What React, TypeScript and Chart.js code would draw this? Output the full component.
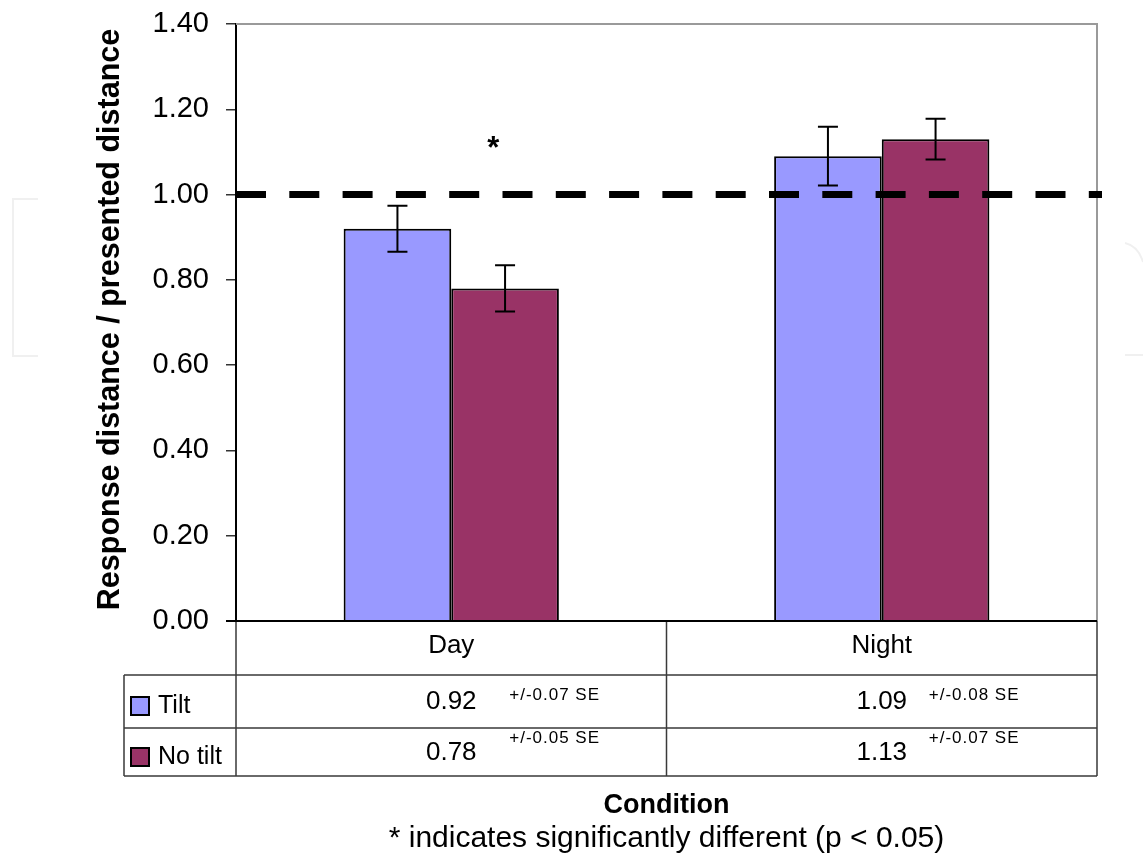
import React, { useEffect, useRef } from "react";
import { Chart, registerables } from "chart.js";

Chart.register(...registerables);

// ---------- data ----------
const categories = ["Day", "Night"];
const seriesNames = ["Tilt", "No tilt"];
const tiltValues = [0.92, 1.09];
const noTiltValues = [0.78, 1.13];
const tiltErr = [0.054, 0.069];
const noTiltErr = [0.054, 0.048];
const tiltSE = ["+/-0.07 SE", "+/-0.08 SE"];
const noTiltSE = ["+/-0.05 SE", "+/-0.07 SE"];
const yMin = 0;
const yMax = 1.4;
const yStep = 0.2;
const referenceValue = 1.0;
const significanceMark = "*";
const significanceValue = 1.12;
const yTitle = "Response distance / presented distance";
const xTitle = "Condition";
const footnote = "* indicates significantly different (p < 0.05)";

const seriesColors = ["#9999FF", "#993366"];
const FONT = "'Liberation Sans', Arial, sans-serif";

const seriesValues = [tiltValues, noTiltValues];
const seriesErr = [tiltErr, noTiltErr];
const seriesSE = [tiltSE, noTiltSE];

const customPlugin = {
  id: "customDraw",
  beforeDraw(chart: any) {
    const { ctx } = chart;
    ctx.save();
    ctx.fillStyle = "#fff";
    ctx.fillRect(0, 0, chart.width, chart.height);
    // faint watermark outline
    ctx.strokeStyle = "#f0f0f0";
    ctx.lineWidth = 2;
    ctx.beginPath();
    ctx.moveTo(38, 199);
    ctx.lineTo(13, 199);
    ctx.lineTo(13, 356);
    ctx.lineTo(38, 356);
    ctx.stroke();
    ctx.beginPath();
    ctx.moveTo(1125, 243);
    ctx.quadraticCurveTo(1138, 246, 1143, 262);
    ctx.moveTo(1125, 355);
    ctx.lineTo(1143, 355);
    ctx.stroke();
    ctx.restore();
  },
  beforeDatasetsDraw(chart: any) {
    const { ctx, chartArea: a } = chart;
    ctx.save();
    ctx.strokeStyle = "#9a9a9a";
    ctx.lineWidth = 2;
    ctx.beginPath();
    ctx.moveTo(a.left, a.top);
    ctx.lineTo(a.right, a.top);
    ctx.lineTo(a.right, a.bottom);
    ctx.stroke();
    ctx.restore();
  },
  afterDatasetsDraw(chart: any) {
    const { ctx, chartArea: a } = chart;
    const ys = chart.scales.y;
    const xs = chart.scales.x;
    ctx.save();

    // error bars
    ctx.strokeStyle = "#000";
    ctx.lineWidth = 2;
    seriesErr.forEach((errs, di) => {
      const meta = chart.getDatasetMeta(di);
      meta.data.forEach((bar: any, i: number) => {
        const v = seriesValues[di][i];
        const top = ys.getPixelForValue(v + errs[i]);
        const bot = ys.getPixelForValue(v - errs[i]);
        ctx.beginPath();
        ctx.moveTo(bar.x, top);
        ctx.lineTo(bar.x, bot);
        ctx.moveTo(bar.x - 10, top);
        ctx.lineTo(bar.x + 10, top);
        ctx.moveTo(bar.x - 10, bot);
        ctx.lineTo(bar.x + 10, bot);
        ctx.stroke();
      });
    });

    // reference dashed line
    const ry = ys.getPixelForValue(referenceValue);
    ctx.beginPath();
    ctx.setLineDash([30, 23.3]);
    ctx.lineWidth = 7;
    ctx.moveTo(a.left, ry);
    ctx.lineTo(a.right + 5, ry);
    ctx.stroke();
    ctx.setLineDash([]);

    // significance star
    ctx.fillStyle = "#000";
    ctx.font = `bold 31px ${FONT}`;
    ctx.textAlign = "center";
    ctx.textBaseline = "alphabetic";
    ctx.fillText(significanceMark, xs.getPixelForValue(0) + 42, ys.getPixelForValue(significanceValue) + 15);

    // data table
    const rowTop = a.bottom;
    const r1 = rowTop + 54;
    const r2 = r1 + 53;
    const r3 = r2 + 48;
    const legLeft = a.left - 112;
    const mid = (a.left + a.right) / 2;
    ctx.strokeStyle = "#3a3a3a";
    ctx.lineWidth = 1.5;
    ctx.beginPath();
    ctx.moveTo(legLeft, r1);
    ctx.lineTo(a.right, r1);
    ctx.moveTo(legLeft, r2);
    ctx.lineTo(a.right, r2);
    ctx.moveTo(legLeft, r3);
    ctx.lineTo(a.right, r3);
    ctx.moveTo(legLeft, r1);
    ctx.lineTo(legLeft, r3);
    ctx.moveTo(a.left, rowTop);
    ctx.lineTo(a.left, r3);
    ctx.moveTo(mid, rowTop);
    ctx.lineTo(mid, r3);
    ctx.moveTo(a.right, rowTop);
    ctx.lineTo(a.right, r3);
    ctx.stroke();
    // x axis line
    ctx.strokeStyle = "#000";
    ctx.lineWidth = 2;
    ctx.beginPath();
    ctx.moveTo(a.left - 10, rowTop);
    ctx.lineTo(a.right, rowTop);
    ctx.stroke();

    // header labels
    ctx.fillStyle = "#000";
    ctx.textAlign = "center";
    ctx.font = `26px ${FONT}`;
    categories.forEach((c, i) => {
      ctx.fillText(c, xs.getPixelForValue(i), rowTop + 32);
    });

    // legend cells
    const rowBase = [r1 + 38, r2 + 36];
    const seOffsets = [58, 47];
    const seBase = [r1 + 25, r2 + 15];
    seriesNames.forEach((name, si) => {
      const boxY = rowBase[si] - 16;
      ctx.fillStyle = seriesColors[si];
      ctx.fillRect(legLeft + 7, boxY, 18, 18);
      ctx.strokeStyle = "#000";
      ctx.lineWidth = 2;
      ctx.strokeRect(legLeft + 7, boxY, 18, 18);
      ctx.fillStyle = "#000";
      ctx.textAlign = "left";
      ctx.font = `25px ${FONT}`;
      ctx.fillText(name, legLeft + 34, rowBase[si]);
      seriesValues[si].forEach((v, ci) => {
        const cx = xs.getPixelForValue(ci);
        ctx.textAlign = "center";
        ctx.font = `26px ${FONT}`;
        ctx.fillText(v.toFixed(2), cx, rowBase[si] - 4);
        ctx.textAlign = "left";
        ctx.font = `17px ${FONT}`;
        (ctx as any).letterSpacing = "1px";
        ctx.fillText(seriesSE[si][ci], cx + seOffsets[ci], seBase[si]);
        (ctx as any).letterSpacing = "0px";
      });
    });

    // titles
    ctx.textAlign = "center";
    ctx.font = `bold 27px ${FONT}`;
    ctx.fillText(xTitle, mid, 813);
    ctx.font = `30px ${FONT}`;
    ctx.fillText(footnote, mid, 847);

    ctx.save();
    ctx.translate(119, (a.top + a.bottom) / 2 - 3);
    ctx.rotate(-Math.PI / 2);
    ctx.font = `bold 30.5px ${FONT}`;
    ctx.fillText(yTitle, 0, 0);
    ctx.restore();

    ctx.restore();
  },
};

export default function App() {
  const ref = useRef<HTMLCanvasElement | null>(null);
  useEffect(() => {
    if (!ref.current) return;
    const chart = new Chart(ref.current, {
      type: "bar",
      data: {
        labels: categories,
        datasets: seriesNames.map((n, i) => ({
          label: n,
          data: seriesValues[i],
          backgroundColor: seriesColors[i],
          borderColor: "#000",
          borderWidth: 2,
          categoryPercentage: 0.5,
          barPercentage: 1,
        })),
      },
      options: {
        responsive: false,
        animation: false,
        devicePixelRatio: 1,
        layout: { padding: { left: 0, right: 46, top: 24, bottom: 241 } },
        plugins: { legend: { display: false }, tooltip: { enabled: false }, title: { display: false } },
        scales: {
          x: { display: false },
          y: {
            min: yMin,
            max: yMax,
            afterFit: (s: any) => {
              s.width = 236;
              s.paddingTop = 0;
              s.paddingBottom = 0;
            },
            ticks: {
              stepSize: yStep,
              callback: (v: any) => Number(v).toFixed(2),
              font: { family: FONT, size: 29 },
              color: "#000",
              padding: 17,
            },
            grid: { drawOnChartArea: false, tickLength: 10, color: "#333", lineWidth: 1.5 },
            border: { display: true, color: "#000", width: 2 },
          },
        },
      },
      plugins: [customPlugin],
    });
    return () => chart.destroy();
  }, []);
  return (
    <div style={{ position: "absolute", left: 0, top: 0, width: 1143, height: 862, background: "#fff" }}>
      <canvas ref={ref} width={1143} height={862} style={{ display: "block", width: 1143, height: 862 }} />
    </div>
  );
}
